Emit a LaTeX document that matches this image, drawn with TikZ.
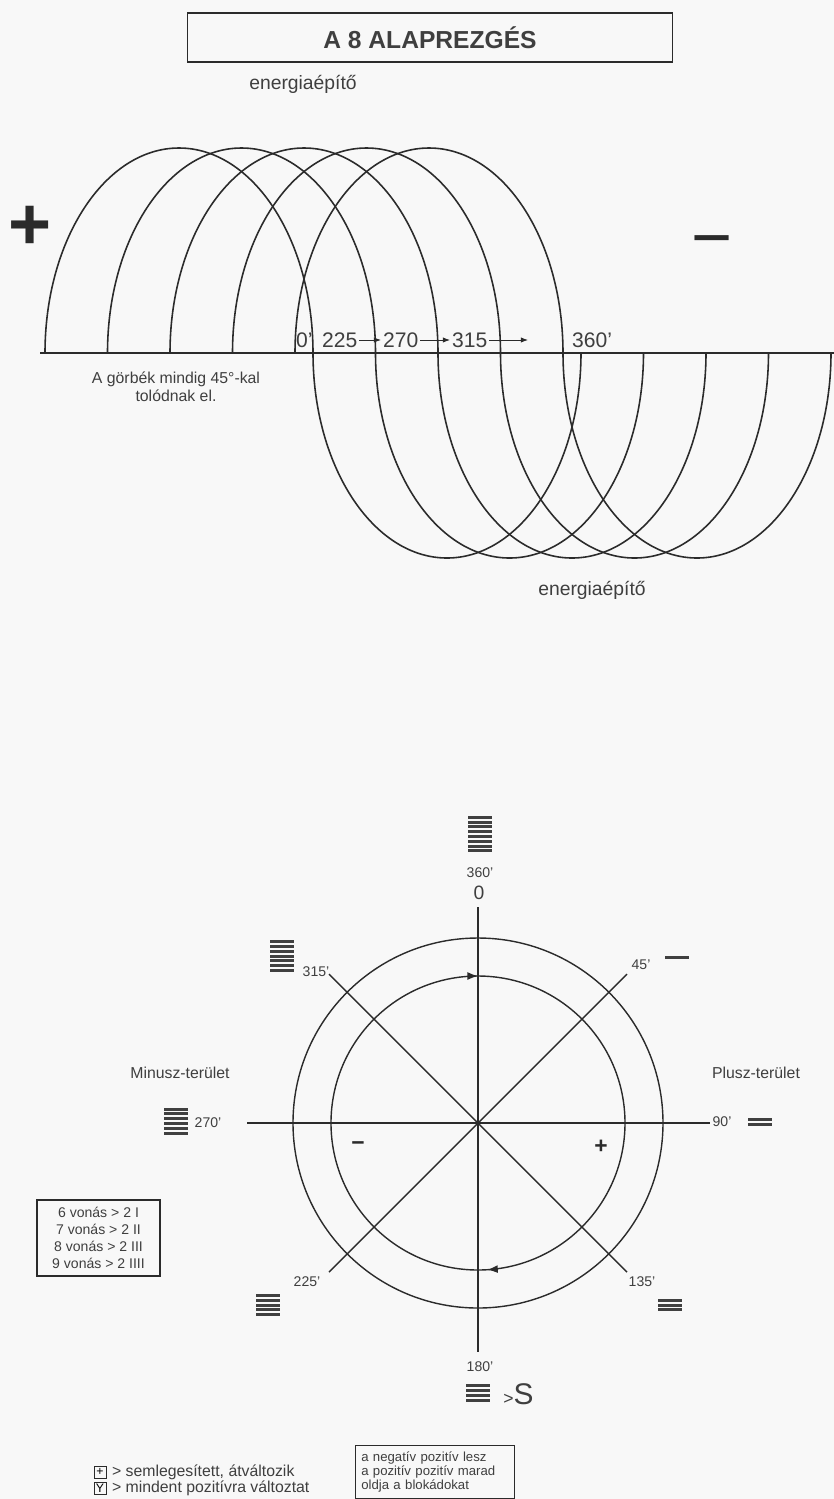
\documentclass[tikz,border=0pt]{standalone}
\usepackage{fontspec}
\setmainfont{Liberation Sans}
\usetikzlibrary{arrows.meta,positioning,decorations.markings}
\definecolor{rajz}{HTML}{2B2B2B}
\definecolor{szoveg}{HTML}{3F3F3F}
\definecolor{papir}{HTML}{F8F8F8}
% egy jel vonasai: x, y, darab
\newcommand{\vonasok}[3]{%
  \foreach \i in {1,...,#3}
    \fill[vonas] ({#1-12},{#2-(#3-1)*2.4-1.5+(\i-1)*4.8}) rectangle ++(24,3);}
\tikzset{
  vonal/.style={draw=rajz, line width=0.8pt},
  hullam/.style={draw=rajz, line width=0.9pt},
  vonas/.style={fill=rajz!90},
  fok/.style={text=szoveg, inner sep=1pt, font=\fontsize{12}{14}\selectfont},
  kisfok/.style={text=szoveg, inner sep=1pt, font=\fontsize{8}{9}\selectfont},
  terulet/.style={text=szoveg, inner sep=1pt, font=\fontsize{9}{11}\selectfont},
  jel/.style={text=rajz, inner sep=0pt, font=\fontsize{13}{13}\selectfont\bfseries},
  nyil/.style={draw=rajz, line width=0.5pt, -{Latex[length=4pt,width=3pt]}},
  kocka/.style={draw=rajz, line width=0.5pt, inner sep=0.5pt, minimum size=0.24cm, font=\fontsize{7}{7}\selectfont},
}
\begin{document}
\begin{tikzpicture}[x=0.02cm,y=-0.02cm]
  \fill[papir] (0,0) rectangle (834,1499);
  \useasboundingbox (0,0) rectangle (834,1499);

  % felso resz: a hullamok
  \node[draw=rajz, line width=1pt, minimum width=9.7cm, minimum height=0.98cm, text=szoveg, font=\fontsize{14}{16}\selectfont\bfseries] (cim) at (430,37.5) {A 8 ALAPREZGÉS};
  \node[text=szoveg, font=\fontsize{11}{13}\selectfont] (felso) at (303,84) {energiaépítő};
  \node[text=rajz, font=\fontsize{42}{42}\selectfont\bfseries] (plusz) at (30,228) {+};
  \node[text=rajz, font=\fontsize{40}{40}\selectfont] (minusz) at (712,249) {−};

  \coordinate (tbal) at (40,353);
  \coordinate (tjobb) at (834,353);
  \draw[vonal] (tbal) -- (tjobb);
  \foreach \k in {0,...,4}
    \draw[hullam] ({45+62.5*\k},353)
      arc[start angle=180, end angle=360, x radius=134, y radius=205]
      arc[start angle=180, end angle=0, x radius=134, y radius=205];

  \node[fok, anchor=west] (n0) at (294,340) {0'};
  \node[fok, anchor=west] (n225) at (320,340) {225};
  \node[fok, anchor=west] (n270) at (381,340) {270};
  \node[fok, anchor=west] (n315) at (450,340) {315};
  \node[fok, anchor=west] (n360) at (570,340) {360'};
  \coordinate (vege) at (528,340);
  \draw[nyil] (n225) -- (n270);
  \draw[nyil] (n270) -- (n315);
  \draw[nyil] (n315.east) -- (vege);

  \node[text=szoveg, align=center, font=\fontsize{9}{10.2}\selectfont] (megj) at (176,387) {A görbék mindig 45°-kal\\tolódnak el.};
  \node[text=szoveg, font=\fontsize{11}{13}\selectfont] (also) at (592,590) {energiaépítő};

  % also resz: a kor
  \coordinate (kp) at (478,1123);
  \coordinate (ny) at (247,1123);
  \coordinate (ke) at (710,1123);
  \coordinate (es) at (478,907);
  \coordinate (de) at (478,1352);
  \coordinate (ek) at (627,974);
  \coordinate (dny) at (329,1272);
  \coordinate (eny) at (329,974);
  \coordinate (dk) at (627,1272);
  \draw[vonal] (kp) circle[radius=185];
  \draw[vonal, postaction={decorate}, decoration={markings,
      mark=at position 0.24 with {\arrow{Latex[length=6pt,width=4.5pt]}},
      mark=at position 0.75 with {\arrow{Latex[length=6pt,width=4.5pt]}}}]
    (kp) circle[radius=147];
  \draw[vonal] (ny) -- (ke);
  \draw[vonal] (es) -- (de);
  \draw[vonal] (eny) -- (dk);
  \draw[vonal] (ek) -- (dny);

  \node[kisfok] (f360) at (480,873) {360'};
  \node[text=szoveg, inner sep=1pt, font=\fontsize{11}{12}\selectfont] (f0) at (479,893) {0};
  \node[kisfok] (f315) at (316,972) {315'};
  \node[kisfok] (f45) at (641,965) {45'};
  \node[kisfok] (f270) at (208,1123) {270'};
  \node[kisfok] (f90) at (722,1122) {90'};
  \node[kisfok] (f225) at (307,1282) {225'};
  \node[kisfok] (f135) at (642,1282) {135'};
  \node[kisfok] (f180) at (480,1367) {180'};
  \node[terulet] (minuszter) at (180,1073) {Minusz-terület};
  \node[terulet] (pluszter) at (756,1073) {Plusz-terület};
  \node[jel] (bal) at (358,1146) {−};
  \node[jel] (jobb) at (601,1147) {+};
  \node[text=szoveg, inner sep=0pt, anchor=west] (nagyobb) at (503,1394) {{\fontsize{10}{10}\selectfont >}{\fontsize{17}{17}\selectfont S}};

  \vonasok{480}{834}{8}
  \vonasok{282}{956}{7}
  \vonasok{677}{957}{1}
  \vonasok{176}{1121}{6}
  \vonasok{760}{1122}{2}
  \vonasok{268}{1305}{5}
  \vonasok{670}{1305}{3}
  \vonasok{478}{1393}{4}

  % jelmagyarazat
  \node[draw=rajz, line width=0.6pt, minimum width=2.46cm, minimum height=1.52cm, align=center, text=szoveg, font=\fontsize{8}{9.6}\selectfont] (vonasszam) at (98.5,1238) {6 vonás > 2 I\\7 vonás > 2 II\\8 vonás > 2 III\\9 vonás > 2 IIII};

  \node[kocka] (jplusz) at (100,1472) {+};
  \node[kocka] (jy) at (100,1488) {Y};
  \node[text=szoveg, inner sep=0pt, anchor=west, font=\fontsize{9}{10}\selectfont, right=3pt of jplusz] (semleges) {> semlegesített, átváltozik};
  \node[text=szoveg, inner sep=0pt, anchor=west, font=\fontsize{9}{10}\selectfont, right=3pt of jy] (mindent) {> mindent pozitívra változtat};
  \node[draw=rajz, line width=1pt, minimum width=3.12cm, minimum height=1cm, text width=2.95cm, align=left, text=szoveg, font=\fontsize{7.5}{8.2}\selectfont] (blokad) at (435,1472) {a negatív pozitív lesz\\a pozitív pozitív marad\\oldja a blokádokat};
\end{tikzpicture}
\end{document}
